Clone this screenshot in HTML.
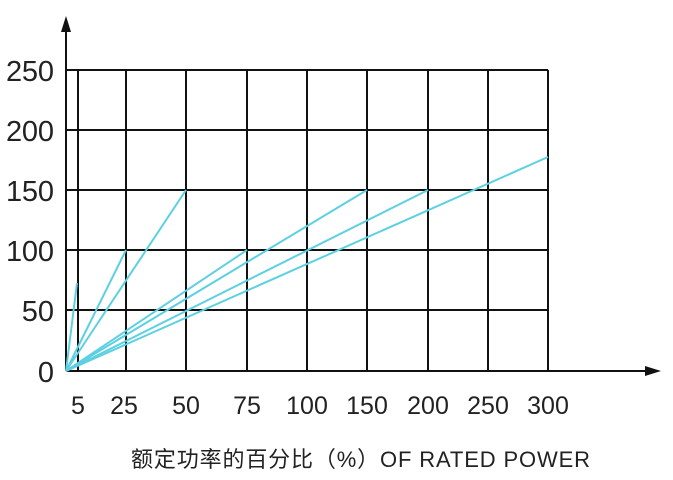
<!DOCTYPE html>
<html><head><meta charset="utf-8"><style>
body{margin:0;background:#fff}
svg{display:block}
text{font-family:"Liberation Sans","Noto Sans CJK SC",sans-serif;fill:#222}
</style></head><body>
<svg width="673" height="480" viewBox="0 0 673 480">
<g stroke="#111" stroke-width="2" fill="none">
<line x1="66" y1="70" x2="548" y2="70"/>
<line x1="66" y1="130" x2="548" y2="130"/>
<line x1="66" y1="190" x2="548" y2="190"/>
<line x1="66" y1="250" x2="548" y2="250"/>
<line x1="66" y1="310" x2="548" y2="310"/>
<line x1="66" y1="371" x2="648" y2="371"/>
<line x1="66" y1="30" x2="66" y2="371"/>
<line x1="78" y1="70" x2="78" y2="371"/>
<line x1="126" y1="70" x2="126" y2="371"/>
<line x1="186" y1="70" x2="186" y2="371"/>
<line x1="247" y1="70" x2="247" y2="371"/>
<line x1="307" y1="70" x2="307" y2="371"/>
<line x1="367" y1="70" x2="367" y2="371"/>
<line x1="428" y1="70" x2="428" y2="371"/>
<line x1="488" y1="70" x2="488" y2="371"/>
<line x1="548" y1="70" x2="548" y2="371"/>
</g>
<polygon points="66,16 61,32 71,32" fill="#111"/>
<polygon points="661,371 645,366 645,376" fill="#111"/>
<g stroke="#5dd0e2" stroke-width="2" fill="none">
<line x1="66" y1="371" x2="77" y2="283"/>
<line x1="66" y1="371" x2="126" y2="250"/>
<line x1="66" y1="371" x2="186" y2="190"/>
<line x1="66" y1="371" x2="247" y2="250"/>
<line x1="66" y1="371" x2="367" y2="190"/>
<line x1="66" y1="371" x2="428" y2="190"/>
<line x1="66" y1="371" x2="548" y2="157"/>
</g>
<g font-size="29" text-anchor="end">
<text x="54" y="81" textLength="48">250</text>
<text x="54" y="141" textLength="48">200</text>
<text x="54" y="201" textLength="48">150</text>
<text x="54" y="261" textLength="48">100</text>
<text x="54" y="321">50</text>
<text x="54" y="382">0</text>
</g>
<g font-size="25" text-anchor="middle">
<text x="78" y="414">5</text>
<text x="124" y="414">25</text>
<text x="186" y="414">50</text>
<text x="247" y="414">75</text>
<text x="307" y="414">100</text>
<text x="367" y="414">150</text>
<text x="428" y="414">200</text>
<text x="488" y="414">250</text>
<text x="548" y="414">300</text>
</g>
<text x="131" y="467" font-size="22" textLength="459">额定功率的百分比（%）OF RATED POWER</text>
</svg>
</body></html>
